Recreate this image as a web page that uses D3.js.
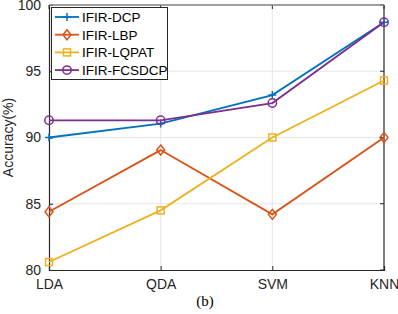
<!DOCTYPE html>
<html><head><meta charset="utf-8">
<script src="https://cdn.jsdelivr.net/npm/d3@7"></script>
<style>body{margin:0;background:#fff}svg{display:block}</style>
</head><body>
<svg id="c" width="398" height="314"></svg>
<script>
const categories = ["LDA", "QDA", "SVM", "KNN"];
const yTicks = [80, 85, 90, 95, 100];
const seriesNames = ["IFIR-DCP", "IFIR-LBP", "IFIR-LQPAT", "IFIR-FCSDCP"];
const dcp = [90.0, 91.05, 93.2, 98.7];
const lbp = [84.4, 89.05, 84.2, 90.0];
const lqpat = [80.6, 84.5, 90.0, 94.3];
const fcsdcp = [91.3, 91.3, 92.6, 98.7];
const colors = ["#0072BD", "#D95319", "#EDB120", "#7E2F8E"];
const markers = ["plus", "diamond", "square", "circle"];
const allSeries = [dcp, lbp, lqpat, fcsdcp];

const svg = d3.select("#c");
const L = 49, R = 384, T = 5, B = 270;
const x = d3.scalePoint().domain(categories).range([L, R]);
const y = d3.scaleLinear().domain([80, 100]).range([B, T]);
const font = "'Liberation Sans', Arial, sans-serif";

// grid
svg.append("g").selectAll("line").data(yTicks.slice(1, -1)).join("line")
  .attr("x1", L).attr("x2", R).attr("y1", d => y(d)).attr("y2", d => y(d))
  .attr("stroke", "#e6e6e6").attr("stroke-width", 1);
svg.append("g").selectAll("line").data(categories.slice(1, -1)).join("line")
  .attr("y1", T).attr("y2", B).attr("x1", d => x(d)).attr("x2", d => x(d))
  .attr("stroke", "#e6e6e6").attr("stroke-width", 1);

// axes
const yAxis = d3.axisLeft(y).tickValues(yTicks).tickSize(-4).tickPadding(8);
const gy = svg.append("g").attr("transform", `translate(${L},0)`).call(yAxis);
const xAxis = d3.axisBottom(x).tickSize(-4).tickPadding(9);
const gx = svg.append("g").attr("transform", `translate(0,${B})`).call(xAxis);
[gy, gx].forEach(g => {
  g.select(".domain").attr("stroke", "#262626").attr("stroke-width", 1.2);
  g.selectAll(".tick line").attr("stroke", "#262626");
  g.selectAll("text").attr("font-family", font).attr("font-size", 14).attr("fill", "#262626");
});
// right axis ticks
svg.append("g").selectAll("line").data(yTicks).join("line")
  .attr("x1", R).attr("x2", R - 4).attr("y1", d => y(d)).attr("y2", d => y(d)).attr("stroke", "#262626");
svg.append("g").selectAll("line").data(categories).join("line")
  .attr("y1", T).attr("y2", T + 4).attr("x1", d => x(d)).attr("x2", d => x(d)).attr("stroke", "#262626");
svg.append("line").attr("x1", R).attr("x2", R).attr("y1", T).attr("y2", B).attr("stroke", "#262626").attr("stroke-width", 1.2);
svg.append("line").attr("x1", L).attr("x2", R).attr("y1", T).attr("y2", T).attr("stroke", "#808080").attr("stroke-width", 1.5);

// y label
svg.append("text").attr("transform", `translate(13,${(T + B) / 2}) rotate(-90)`)
  .attr("text-anchor", "middle").attr("font-family", font).attr("font-size", 14).attr("fill", "#262626")
  .text("Accuracy(%)");

function drawMarker(g, type, cx, cy, color) {
  if (type === "plus") {
    g.append("path").attr("d", `M${cx - 4},${cy}H${cx + 4}M${cx},${cy - 4}V${cy + 4}`).attr("stroke", color).attr("stroke-width", 1.5).attr("fill", "none");
  } else if (type === "diamond") {
    g.append("path").attr("d", `M${cx},${cy - 5}L${cx + 4},${cy}L${cx},${cy + 5}L${cx - 4},${cy}Z`).attr("stroke", color).attr("stroke-width", 1.5).attr("fill", "none");
  } else if (type === "square") {
    g.append("rect").attr("x", cx - 3.5).attr("y", cy - 3.5).attr("width", 7).attr("height", 7).attr("stroke", color).attr("stroke-width", 1.5).attr("fill", "none");
  } else {
    g.append("circle").attr("cx", cx).attr("cy", cy).attr("r", 4.2).attr("stroke", color).attr("stroke-width", 1.5).attr("fill", "none");
  }
}

const line = d3.line().x((d, i) => x(categories[i])).y(d => y(d));
allSeries.forEach((s, k) => {
  const g = svg.append("g");
  g.append("path").attr("d", line(s)).attr("fill", "none").attr("stroke", colors[k]).attr("stroke-width", 1.8);
  s.forEach((v, i) => drawMarker(g, markers[k], x(categories[i]), y(v), colors[k]));
});

// legend
const lg = svg.append("g");
lg.append("rect").attr("x", 51.5).attr("y", 7.5).attr("width", 116).attr("height", 72)
  .attr("fill", "#fff").attr("stroke", "#262626").attr("stroke-width", 1);
seriesNames.forEach((n, k) => {
  const yy = 17 + k * 17.7;
  lg.append("line").attr("x1", 55).attr("x2", 79).attr("y1", yy).attr("y2", yy).attr("stroke", colors[k]).attr("stroke-width", 1.8);
  drawMarker(lg, markers[k], 67, yy, colors[k]);
  lg.append("text").attr("x", 82).attr("y", yy + 5).attr("font-family", font).attr("font-size", 13.5).attr("fill", "#000").text(n);
});

// caption
svg.append("text").attr("x", 205).attr("y", 306).attr("text-anchor", "middle")
  .attr("font-family", "'Liberation Serif', 'Times New Roman', serif").attr("font-size", 15).attr("fill", "#000").text("(b)");
</script>
</body></html>
